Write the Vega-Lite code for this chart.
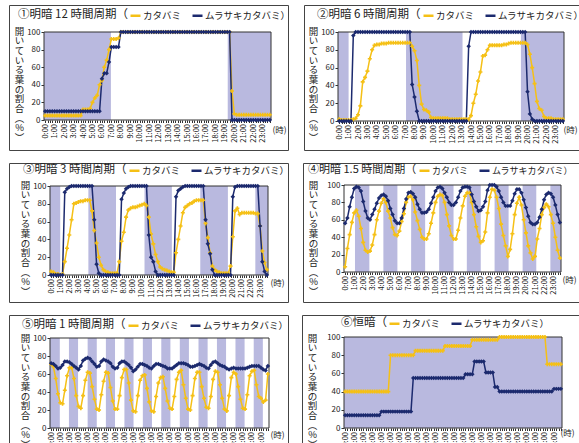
{
"$schema": "https://vega.github.io/schema/vega-lite/v6.json",
"background": "white",
"padding": {"left": 8, "top": 4, "right": 0, "bottom": 0},
"spacing": 11,
"config": {
  "font": "Noto Sans CJK JP",
  "view": {"stroke": "#444", "strokeWidth": 1},
  "axis": {"labelColor": "#222", "tickColor": "#333", "titleColor": "#222", "titleFontWeight": "normal", "labelOverlap": false},
  "axisX": {"labelAngle": -90, "labelFontSize": 7.5, "labelPadding": 1, "tickSize": 2.5, "domain": false, "grid": false, "labelOverlap": false, "labelBound": false, "labelFlush": false, "titleAngle": 0, "titleAlign": "center", "titleBaseline": "middle", "titleFontSize": 8.5},
  "axisY": {"labelFontSize": 8, "tickSize": 3, "labelPadding": 1, "domain": false, "grid": false, "titleAngle": 0, "titleAlign": "center", "titleBaseline": "top", "titleFontSize": 9.5, "titleLineHeight": 9.7},
  "legend": {"orient": "none", "direction": "horizontal", "titleOrient": "left", "titleFontSize": 11.5, "titleFontWeight": "normal", "titleColor": "#222", "labelFontSize": 9.5, "labelColor": "#222", "symbolType": "stroke", "symbolStrokeWidth": 2.5, "symbolSize": 100, "labelOffset": 1, "columnPadding": 5, "padding": 0, "titlePadding": 1}
},
"datasets": {
"sh": [
{"p":1,"a":-0.125,"b":6.95},{"p":1,"a":19.3,"b":23.875},
{"p":2,"a":-0.125,"b":1.0},{"p":2,"a":7.1,"b":13.1},{"p":2,"a":19.3,"b":23.875},
{"p":3,"a":-0.125,"b":1.0},{"p":3,"a":4.1,"b":7.14},{"p":3,"a":10.28,"b":13.29},{"p":3,"a":16.42,"b":19.46},{"p":3,"a":22.48,"b":23.875},
{"p":4,"a":1.09,"b":2.68},{"p":4,"a":4.23,"b":5.78},{"p":4,"a":7.3,"b":8.85},{"p":4,"a":10.4,"b":11.99},{"p":4,"a":13.46,"b":15.0},{"p":4,"a":16.53,"b":18.08},{"p":4,"a":19.63,"b":21.14},{"p":4,"a":22.7,"b":23.875},
{"p":5,"a":-0.125,"b":0.95},{"p":5,"a":1.95,"b":2.95},{"p":5,"a":4.0,"b":5.0},{"p":5,"a":6.0,"b":7.0},{"p":5,"a":8.03,"b":9.03},{"p":5,"a":10.05,"b":11.05},{"p":5,"a":12.07,"b":13.07},{"p":5,"a":14.1,"b":15.1},{"p":5,"a":16.15,"b":17.15},{"p":5,"a":18.17,"b":19.17},{"p":5,"a":20.2,"b":21.2},{"p":5,"a":22.2,"b":23.2},
{"p":6,"a":-0.125,"b":23.875}
],
"s": [
{"p":1,"t":0,"k":5,"m":10},{"p":1,"t":0.25,"k":5,"m":10},{"p":1,"t":0.5,"k":5,"m":10},{"p":1,"t":0.75,"k":5,"m":10},{"p":1,"t":1,"k":5,"m":10},{"p":1,"t":1.25,"k":5,"m":10},{"p":1,"t":1.5,"k":5,"m":10},{"p":1,"t":1.75,"k":5,"m":10},{"p":1,"t":2,"k":5,"m":10},{"p":1,"t":2.25,"k":5,"m":10},{"p":1,"t":2.5,"k":5,"m":10},{"p":1,"t":2.75,"k":5,"m":10},{"p":1,"t":3,"k":5,"m":10},{"p":1,"t":3.25,"k":5,"m":10},{"p":1,"t":3.5,"k":5,"m":10},{"p":1,"t":3.75,"k":5,"m":10},
{"p":1,"t":4,"k":12,"m":10},{"p":1,"t":4.25,"k":12,"m":10},{"p":1,"t":4.5,"k":12,"m":10},{"p":1,"t":4.75,"k":13,"m":10},{"p":1,"t":5,"k":20,"m":10},{"p":1,"t":5.25,"k":25,"m":10},{"p":1,"t":5.5,"k":28,"m":10},{"p":1,"t":5.75,"k":40,"m":10},
{"p":1,"t":6,"k":45,"m":47},{"p":1,"t":6.25,"k":60,"m":53},{"p":1,"t":6.5,"k":68,"m":53},{"p":1,"t":6.75,"k":80,"m":66},{"p":1,"t":7,"k":92,"m":83},{"p":1,"t":7.25,"k":92,"m":83},{"p":1,"t":7.5,"k":92,"m":83},{"p":1,"t":7.75,"k":93,"m":83},
{"p":1,"t":8,"k":100,"m":100},{"p":1,"t":8.25,"k":100,"m":100},{"p":1,"t":8.5,"k":100,"m":100},{"p":1,"t":8.75,"k":100,"m":100},{"p":1,"t":9,"k":100,"m":100},{"p":1,"t":9.25,"k":100,"m":100},{"p":1,"t":9.5,"k":100,"m":100},{"p":1,"t":9.75,"k":100,"m":100},{"p":1,"t":10,"k":100,"m":100},{"p":1,"t":10.25,"k":100,"m":100},{"p":1,"t":10.5,"k":100,"m":100},{"p":1,"t":10.75,"k":100,"m":100},{"p":1,"t":11,"k":100,"m":100},{"p":1,"t":11.25,"k":100,"m":100},{"p":1,"t":11.5,"k":100,"m":100},{"p":1,"t":11.75,"k":100,"m":100},{"p":1,"t":12,"k":100,"m":100},{"p":1,"t":12.25,"k":100,"m":100},{"p":1,"t":12.5,"k":100,"m":100},{"p":1,"t":12.75,"k":100,"m":100},{"p":1,"t":13,"k":100,"m":100},{"p":1,"t":13.25,"k":100,"m":100},{"p":1,"t":13.5,"k":100,"m":100},{"p":1,"t":13.75,"k":100,"m":100},{"p":1,"t":14,"k":100,"m":100},{"p":1,"t":14.25,"k":100,"m":100},{"p":1,"t":14.5,"k":100,"m":100},{"p":1,"t":14.75,"k":100,"m":100},{"p":1,"t":15,"k":100,"m":100},{"p":1,"t":15.25,"k":100,"m":100},{"p":1,"t":15.5,"k":100,"m":100},{"p":1,"t":15.75,"k":100,"m":100},{"p":1,"t":16,"k":100,"m":100},{"p":1,"t":16.25,"k":100,"m":100},{"p":1,"t":16.5,"k":100,"m":100},{"p":1,"t":16.75,"k":100,"m":100},{"p":1,"t":17,"k":100,"m":100},{"p":1,"t":17.25,"k":100,"m":100},{"p":1,"t":17.5,"k":100,"m":100},{"p":1,"t":17.75,"k":100,"m":100},{"p":1,"t":18,"k":100,"m":100},{"p":1,"t":18.25,"k":100,"m":100},{"p":1,"t":18.5,"k":100,"m":100},{"p":1,"t":18.75,"k":100,"m":100},{"p":1,"t":19,"k":100,"m":100},{"p":1,"t":19.25,"k":100,"m":100},{"p":1,"t":19.5,"k":100,"m":100},
{"p":1,"t":19.75,"k":33,"m":0},{"p":1,"t":20,"k":7,"m":0},{"p":1,"t":20.25,"k":6,"m":0},{"p":1,"t":20.5,"k":6,"m":0},{"p":1,"t":20.75,"k":6,"m":0},{"p":1,"t":21,"k":6,"m":0},{"p":1,"t":21.25,"k":6,"m":0},{"p":1,"t":21.5,"k":6,"m":0},{"p":1,"t":21.75,"k":6,"m":0},{"p":1,"t":22,"k":6,"m":0},{"p":1,"t":22.25,"k":6,"m":0},{"p":1,"t":22.5,"k":6,"m":0},{"p":1,"t":22.75,"k":6,"m":0},{"p":1,"t":23,"k":6,"m":0},{"p":1,"t":23.25,"k":6,"m":0},{"p":1,"t":23.5,"k":6,"m":0},{"p":1,"t":23.75,"k":6,"m":0},

{"p":2,"t":0,"k":2,"m":0},{"p":2,"t":0.25,"k":1,"m":0},{"p":2,"t":0.5,"k":1,"m":0},{"p":2,"t":0.75,"k":1,"m":0},{"p":2,"t":1,"k":1,"m":0},{"p":2,"t":1.25,"k":1,"m":0},{"p":2,"t":1.5,"k":2,"m":96},{"p":2,"t":1.75,"k":3,"m":100},{"p":2,"t":2,"k":7,"m":100},{"p":2,"t":2.25,"k":17,"m":100},{"p":2,"t":2.5,"k":44,"m":100},{"p":2,"t":2.75,"k":49,"m":100},{"p":2,"t":3,"k":56,"m":100},{"p":2,"t":3.25,"k":70,"m":100},{"p":2,"t":3.5,"k":80,"m":100},{"p":2,"t":3.75,"k":85,"m":100},{"p":2,"t":4,"k":86,"m":100},{"p":2,"t":4.25,"k":86,"m":100},{"p":2,"t":4.5,"k":87,"m":100},{"p":2,"t":4.75,"k":87,"m":100},{"p":2,"t":5,"k":87,"m":100},{"p":2,"t":5.25,"k":88,"m":100},{"p":2,"t":5.5,"k":88,"m":100},{"p":2,"t":5.75,"k":88,"m":100},{"p":2,"t":6,"k":88,"m":100},{"p":2,"t":6.25,"k":88,"m":100},{"p":2,"t":6.5,"k":88,"m":100},{"p":2,"t":6.75,"k":88,"m":100},{"p":2,"t":7,"k":88,"m":100},{"p":2,"t":7.25,"k":88,"m":100},{"p":2,"t":7.5,"k":88,"m":100},
{"p":2,"t":7.75,"k":84,"m":41},{"p":2,"t":8,"k":79,"m":27},{"p":2,"t":8.25,"k":68,"m":11},{"p":2,"t":8.5,"k":40,"m":0},{"p":2,"t":8.75,"k":19,"m":0},{"p":2,"t":9,"k":13,"m":0},{"p":2,"t":9.25,"k":12,"m":0},{"p":2,"t":9.5,"k":10,"m":0},{"p":2,"t":9.75,"k":4,"m":0},{"p":2,"t":10,"k":3,"m":0},{"p":2,"t":10.25,"k":3,"m":0},{"p":2,"t":10.5,"k":3,"m":0},{"p":2,"t":10.75,"k":3,"m":0},{"p":2,"t":11,"k":3,"m":0},{"p":2,"t":11.25,"k":3,"m":0},{"p":2,"t":11.5,"k":3,"m":0},{"p":2,"t":11.75,"k":2,"m":0},{"p":2,"t":12,"k":2,"m":0},{"p":2,"t":12.25,"k":2,"m":0},{"p":2,"t":12.5,"k":2,"m":0},{"p":2,"t":12.75,"k":2,"m":0},{"p":2,"t":13,"k":2,"m":0},{"p":2,"t":13.25,"k":2,"m":0},{"p":2,"t":13.5,"k":2,"m":0},
{"p":2,"t":13.75,"k":2,"m":84},{"p":2,"t":14,"k":6,"m":100},{"p":2,"t":14.25,"k":20,"m":100},{"p":2,"t":14.5,"k":30,"m":100},{"p":2,"t":14.75,"k":45,"m":100},{"p":2,"t":15,"k":55,"m":100},{"p":2,"t":15.25,"k":73,"m":100},{"p":2,"t":15.5,"k":74,"m":100},{"p":2,"t":15.75,"k":80,"m":100},{"p":2,"t":16,"k":85,"m":100},{"p":2,"t":16.25,"k":85,"m":100},{"p":2,"t":16.5,"k":85,"m":100},{"p":2,"t":16.75,"k":85,"m":100},{"p":2,"t":17,"k":85,"m":100},{"p":2,"t":17.25,"k":85,"m":100},{"p":2,"t":17.5,"k":86,"m":100},{"p":2,"t":17.75,"k":86,"m":100},{"p":2,"t":18,"k":87,"m":100},{"p":2,"t":18.25,"k":88,"m":100},{"p":2,"t":18.5,"k":88,"m":100},{"p":2,"t":18.75,"k":88,"m":100},{"p":2,"t":19,"k":88,"m":100},{"p":2,"t":19.25,"k":88,"m":100},{"p":2,"t":19.5,"k":88,"m":100},{"p":2,"t":19.75,"k":88,"m":100},
{"p":2,"t":20,"k":86,"m":33},{"p":2,"t":20.25,"k":75,"m":8},{"p":2,"t":20.5,"k":60,"m":2},{"p":2,"t":20.75,"k":42,"m":0},{"p":2,"t":21,"k":22,"m":0},{"p":2,"t":21.25,"k":14,"m":0},{"p":2,"t":21.5,"k":12,"m":0},{"p":2,"t":21.75,"k":5,"m":0},{"p":2,"t":22,"k":3,"m":0},{"p":2,"t":22.25,"k":3,"m":0},{"p":2,"t":22.5,"k":3,"m":0},{"p":2,"t":22.75,"k":2,"m":0},{"p":2,"t":23,"k":2,"m":0},{"p":2,"t":23.25,"k":2,"m":0},{"p":2,"t":23.5,"k":2,"m":0},{"p":2,"t":23.75,"k":2,"m":0},

{"p":3,"t":0,"k":4,"m":0},{"p":3,"t":0.25,"k":3,"m":0},{"p":3,"t":0.5,"k":1,"m":0},{"p":3,"t":0.75,"k":1,"m":0},{"p":3,"t":1,"k":0,"m":0},{"p":3,"t":1.25,"k":1,"m":0},{"p":3,"t":1.5,"k":15,"m":93},{"p":3,"t":1.75,"k":30,"m":97},{"p":3,"t":2,"k":45,"m":99},{"p":3,"t":2.25,"k":62,"m":100},{"p":3,"t":2.5,"k":80,"m":100},{"p":3,"t":2.75,"k":81,"m":100},{"p":3,"t":3,"k":82,"m":100},{"p":3,"t":3.25,"k":83,"m":100},{"p":3,"t":3.5,"k":83,"m":100},{"p":3,"t":3.75,"k":84,"m":100},{"p":3,"t":4,"k":84,"m":100},{"p":3,"t":4.25,"k":84,"m":100},{"p":3,"t":4.5,"k":72,"m":100},
{"p":3,"t":4.75,"k":50,"m":62},{"p":3,"t":5,"k":36,"m":12},{"p":3,"t":5.25,"k":20,"m":2},{"p":3,"t":5.5,"k":11,"m":0},{"p":3,"t":5.75,"k":6,"m":0},{"p":3,"t":6,"k":4,"m":0},{"p":3,"t":6.25,"k":3,"m":0},{"p":3,"t":6.5,"k":2,"m":0},{"p":3,"t":6.75,"k":2,"m":0},{"p":3,"t":7,"k":2,"m":0},{"p":3,"t":7.25,"k":2,"m":0},{"p":3,"t":7.5,"k":15,"m":0},
{"p":3,"t":7.75,"k":38,"m":85},{"p":3,"t":8,"k":48,"m":92},{"p":3,"t":8.25,"k":65,"m":97},{"p":3,"t":8.5,"k":73,"m":99},{"p":3,"t":8.75,"k":75,"m":100},{"p":3,"t":9,"k":76,"m":100},{"p":3,"t":9.25,"k":76,"m":100},{"p":3,"t":9.5,"k":77,"m":100},{"p":3,"t":9.75,"k":78,"m":100},{"p":3,"t":10,"k":79,"m":100},{"p":3,"t":10.25,"k":80,"m":100},{"p":3,"t":10.5,"k":78,"m":100},
{"p":3,"t":10.75,"k":65,"m":45},{"p":3,"t":11,"k":46,"m":20},{"p":3,"t":11.25,"k":35,"m":15},{"p":3,"t":11.5,"k":23,"m":4},{"p":3,"t":11.75,"k":15,"m":0},{"p":3,"t":12,"k":9,"m":0},{"p":3,"t":12.25,"k":7,"m":0},{"p":3,"t":12.5,"k":6,"m":0},{"p":3,"t":12.75,"k":5,"m":0},{"p":3,"t":13,"k":4,"m":0},{"p":3,"t":13.25,"k":3,"m":0},{"p":3,"t":13.5,"k":3,"m":0},
{"p":3,"t":13.75,"k":25,"m":88},{"p":3,"t":14,"k":40,"m":95},{"p":3,"t":14.25,"k":55,"m":97},{"p":3,"t":14.5,"k":70,"m":99},{"p":3,"t":14.75,"k":76,"m":100},{"p":3,"t":15,"k":78,"m":100},{"p":3,"t":15.25,"k":80,"m":100},{"p":3,"t":15.5,"k":81,"m":100},{"p":3,"t":15.75,"k":83,"m":100},{"p":3,"t":16,"k":84,"m":100},{"p":3,"t":16.25,"k":84,"m":100},{"p":3,"t":16.5,"k":84,"m":100},{"p":3,"t":16.75,"k":84,"m":100},
{"p":3,"t":17,"k":58,"m":62},{"p":3,"t":17.25,"k":42,"m":35},{"p":3,"t":17.5,"k":25,"m":24},{"p":3,"t":17.75,"k":10,"m":6},{"p":3,"t":18,"k":6,"m":0},{"p":3,"t":18.25,"k":4,"m":0},{"p":3,"t":18.5,"k":3,"m":0},{"p":3,"t":18.75,"k":2,"m":0},{"p":3,"t":19,"k":2,"m":0},{"p":3,"t":19.25,"k":2,"m":0},{"p":3,"t":19.5,"k":2,"m":0},{"p":3,"t":19.75,"k":10,"m":0},
{"p":3,"t":20,"k":43,"m":88},{"p":3,"t":20.25,"k":72,"m":99},{"p":3,"t":20.5,"k":75,"m":100},{"p":3,"t":20.75,"k":68,"m":100},{"p":3,"t":21,"k":70,"m":100},{"p":3,"t":21.25,"k":70,"m":100},{"p":3,"t":21.5,"k":70,"m":100},{"p":3,"t":21.75,"k":70,"m":100},{"p":3,"t":22,"k":70,"m":100},{"p":3,"t":22.25,"k":70,"m":100},{"p":3,"t":22.5,"k":69,"m":100},{"p":3,"t":22.75,"k":69,"m":100},{"p":3,"t":23,"k":55,"m":55},{"p":3,"t":23.25,"k":27,"m":15},{"p":3,"t":23.5,"k":14,"m":4},{"p":3,"t":23.75,"k":6,"m":0},

{"p":4,"t":0,"k":6,"m":56},{"p":4,"t":0.25,"k":27,"m":62},{"p":4,"t":0.5,"k":43,"m":75},{"p":4,"t":0.75,"k":57,"m":86},{"p":4,"t":1,"k":68,"m":96},{"p":4,"t":1.25,"k":71,"m":98},{"p":4,"t":1.5,"k":64,"m":97},{"p":4,"t":1.75,"k":50,"m":93},{"p":4,"t":2,"k":34,"m":81},{"p":4,"t":2.25,"k":25,"m":70},{"p":4,"t":2.5,"k":23,"m":62},{"p":4,"t":2.75,"k":24,"m":60},{"p":4,"t":3,"k":31,"m":66},{"p":4,"t":3.25,"k":43,"m":72},{"p":4,"t":3.5,"k":60,"m":79},{"p":4,"t":3.75,"k":70,"m":85},{"p":4,"t":4,"k":79,"m":88},{"p":4,"t":4.25,"k":84,"m":89},{"p":4,"t":4.5,"k":80,"m":87},{"p":4,"t":4.75,"k":70,"m":82},{"p":4,"t":5,"k":62,"m":73},{"p":4,"t":5.25,"k":51,"m":66},{"p":4,"t":5.5,"k":43,"m":59},{"p":4,"t":5.75,"k":42,"m":56},
{"p":4,"t":6,"k":47,"m":56},{"p":4,"t":6.25,"k":58,"m":62},{"p":4,"t":6.5,"k":67,"m":73},{"p":4,"t":6.75,"k":80,"m":84},{"p":4,"t":7,"k":86,"m":91},{"p":4,"t":7.25,"k":87,"m":92},{"p":4,"t":7.5,"k":83,"m":90},{"p":4,"t":7.75,"k":69,"m":86},{"p":4,"t":8,"k":59,"m":78},{"p":4,"t":8.25,"k":49,"m":72},{"p":4,"t":8.5,"k":40,"m":68},{"p":4,"t":8.75,"k":38,"m":68},{"p":4,"t":9,"k":38,"m":69},{"p":4,"t":9.25,"k":44,"m":72},{"p":4,"t":9.5,"k":56,"m":79},{"p":4,"t":9.75,"k":68,"m":86},{"p":4,"t":10,"k":80,"m":93},{"p":4,"t":10.25,"k":87,"m":97},{"p":4,"t":10.5,"k":89,"m":98},{"p":4,"t":10.75,"k":88,"m":96},{"p":4,"t":11,"k":80,"m":91},{"p":4,"t":11.25,"k":66,"m":86},{"p":4,"t":11.5,"k":53,"m":80},{"p":4,"t":11.75,"k":42,"m":77},
{"p":4,"t":12,"k":38,"m":77},{"p":4,"t":12.25,"k":38,"m":80},{"p":4,"t":12.5,"k":48,"m":86},{"p":4,"t":12.75,"k":62,"m":93},{"p":4,"t":13,"k":76,"m":97},{"p":4,"t":13.25,"k":87,"m":98},{"p":4,"t":13.5,"k":91,"m":98},{"p":4,"t":13.75,"k":91,"m":97},{"p":4,"t":14,"k":80,"m":89},{"p":4,"t":14.25,"k":66,"m":81},{"p":4,"t":14.5,"k":52,"m":75},{"p":4,"t":14.75,"k":41,"m":70},{"p":4,"t":15,"k":34,"m":71},{"p":4,"t":15.25,"k":36,"m":75},{"p":4,"t":15.5,"k":46,"m":81},{"p":4,"t":15.75,"k":68,"m":94},{"p":4,"t":16,"k":86,"m":100},{"p":4,"t":16.25,"k":95,"m":100},{"p":4,"t":16.5,"k":94,"m":100},{"p":4,"t":16.75,"k":86,"m":98},{"p":4,"t":17,"k":73,"m":93},{"p":4,"t":17.25,"k":55,"m":86},{"p":4,"t":17.5,"k":42,"m":80},{"p":4,"t":17.75,"k":30,"m":76},
{"p":4,"t":18,"k":18,"m":76},{"p":4,"t":18.25,"k":26,"m":76},{"p":4,"t":18.5,"k":44,"m":82},{"p":4,"t":18.75,"k":66,"m":90},{"p":4,"t":19,"k":79,"m":95},{"p":4,"t":19.25,"k":86,"m":95},{"p":4,"t":19.5,"k":77,"m":91},{"p":4,"t":19.75,"k":60,"m":83},{"p":4,"t":20,"k":45,"m":74},{"p":4,"t":20.25,"k":30,"m":64},{"p":4,"t":20.5,"k":22,"m":57},{"p":4,"t":20.75,"k":15,"m":55},{"p":4,"t":21,"k":18,"m":55},{"p":4,"t":21.25,"k":38,"m":57},{"p":4,"t":21.5,"k":50,"m":63},{"p":4,"t":21.75,"k":66,"m":72},{"p":4,"t":22,"k":74,"m":83},{"p":4,"t":22.25,"k":78,"m":89},{"p":4,"t":22.5,"k":75,"m":91},{"p":4,"t":22.75,"k":66,"m":90},{"p":4,"t":23,"k":56,"m":86},{"p":4,"t":23.25,"k":40,"m":77},{"p":4,"t":23.5,"k":25,"m":66},{"p":4,"t":23.75,"k":16,"m":57},

{"p":5,"t":0,"k":71,"m":72},{"p":5,"t":0.25,"k":68,"m":71},{"p":5,"t":0.5,"k":55,"m":69},{"p":5,"t":0.75,"k":38,"m":66},{"p":5,"t":1,"k":28,"m":67},{"p":5,"t":1.25,"k":27,"m":70},{"p":5,"t":1.5,"k":42,"m":74},{"p":5,"t":1.75,"k":58,"m":74},
{"p":5,"t":2,"k":67,"m":73},{"p":5,"t":2.25,"k":67,"m":71},{"p":5,"t":2.5,"k":55,"m":69},{"p":5,"t":2.75,"k":36,"m":67},{"p":5,"t":3,"k":24,"m":65},{"p":5,"t":3.25,"k":22,"m":69},{"p":5,"t":3.5,"k":36,"m":75},{"p":5,"t":3.75,"k":53,"m":77},
{"p":5,"t":4,"k":62,"m":78},{"p":5,"t":4.25,"k":61,"m":77},{"p":5,"t":4.5,"k":46,"m":74},{"p":5,"t":4.75,"k":32,"m":71},{"p":5,"t":5,"k":21,"m":68},{"p":5,"t":5.25,"k":20,"m":69},{"p":5,"t":5.5,"k":37,"m":74},{"p":5,"t":5.75,"k":52,"m":76},
{"p":5,"t":6,"k":62,"m":75},{"p":5,"t":6.25,"k":61,"m":74},{"p":5,"t":6.5,"k":45,"m":72},{"p":5,"t":6.75,"k":30,"m":68},{"p":5,"t":7,"k":21,"m":66},{"p":5,"t":7.25,"k":21,"m":67},{"p":5,"t":7.5,"k":36,"m":72},{"p":5,"t":7.75,"k":56,"m":74},
{"p":5,"t":8,"k":65,"m":74},{"p":5,"t":8.25,"k":65,"m":72},{"p":5,"t":8.5,"k":50,"m":70},{"p":5,"t":8.75,"k":31,"m":67},{"p":5,"t":9,"k":19,"m":63},{"p":5,"t":9.25,"k":18,"m":65},{"p":5,"t":9.5,"k":36,"m":68},{"p":5,"t":9.75,"k":53,"m":71},
{"p":5,"t":10,"k":58,"m":71},{"p":5,"t":10.25,"k":59,"m":70},{"p":5,"t":10.5,"k":44,"m":69},{"p":5,"t":10.75,"k":29,"m":67},{"p":5,"t":11,"k":19,"m":66},{"p":5,"t":11.25,"k":18,"m":69},{"p":5,"t":11.5,"k":35,"m":71},{"p":5,"t":11.75,"k":50,"m":71},
{"p":5,"t":12,"k":56,"m":70},{"p":5,"t":12.25,"k":57,"m":69},{"p":5,"t":12.5,"k":44,"m":68},{"p":5,"t":12.75,"k":30,"m":66},{"p":5,"t":13,"k":22,"m":66},{"p":5,"t":13.25,"k":21,"m":66},{"p":5,"t":13.5,"k":35,"m":68},{"p":5,"t":13.75,"k":54,"m":70},
{"p":5,"t":14,"k":62,"m":72},{"p":5,"t":14.25,"k":64,"m":72},{"p":5,"t":14.5,"k":48,"m":72},{"p":5,"t":14.75,"k":33,"m":71},{"p":5,"t":15,"k":21,"m":70},{"p":5,"t":15.25,"k":20,"m":68},{"p":5,"t":15.5,"k":36,"m":68},{"p":5,"t":15.75,"k":55,"m":69},
{"p":5,"t":16,"k":62,"m":70},{"p":5,"t":16.25,"k":62,"m":71},{"p":5,"t":16.5,"k":46,"m":70},{"p":5,"t":16.75,"k":33,"m":69},{"p":5,"t":17,"k":23,"m":67},{"p":5,"t":17.25,"k":22,"m":66},{"p":5,"t":17.5,"k":35,"m":70},{"p":5,"t":17.75,"k":54,"m":73},
{"p":5,"t":18,"k":63,"m":74},{"p":5,"t":18.25,"k":62,"m":72},{"p":5,"t":18.5,"k":48,"m":70},{"p":5,"t":18.75,"k":33,"m":69},{"p":5,"t":19,"k":21,"m":68},{"p":5,"t":19.25,"k":19,"m":66},{"p":5,"t":19.5,"k":36,"m":65},{"p":5,"t":19.75,"k":56,"m":66},
{"p":5,"t":20,"k":62,"m":67},{"p":5,"t":20.25,"k":60,"m":66},{"p":5,"t":20.5,"k":46,"m":66},{"p":5,"t":20.75,"k":32,"m":66},{"p":5,"t":21,"k":22,"m":66},{"p":5,"t":21.25,"k":21,"m":66},{"p":5,"t":21.5,"k":37,"m":67},{"p":5,"t":21.75,"k":58,"m":68},
{"p":5,"t":22,"k":63,"m":69},{"p":5,"t":22.25,"k":64,"m":69},{"p":5,"t":22.5,"k":48,"m":69},{"p":5,"t":22.75,"k":35,"m":69},{"p":5,"t":23,"k":33,"m":67},{"p":5,"t":23.25,"k":29,"m":65},{"p":5,"t":23.5,"k":31,"m":64},{"p":5,"t":23.75,"k":60,"m":69},

{"p":6,"t":0,"k":40,"m":14},{"p":6,"t":0.25,"k":40,"m":14},{"p":6,"t":0.5,"k":40,"m":14},{"p":6,"t":0.75,"k":40,"m":14},{"p":6,"t":1,"k":40,"m":14},{"p":6,"t":1.25,"k":40,"m":14},{"p":6,"t":1.5,"k":40,"m":14},{"p":6,"t":1.75,"k":40,"m":14},{"p":6,"t":2,"k":40,"m":14},{"p":6,"t":2.25,"k":40,"m":14},{"p":6,"t":2.5,"k":40,"m":14},{"p":6,"t":2.75,"k":40,"m":14},{"p":6,"t":3,"k":40,"m":14},{"p":6,"t":3.25,"k":40,"m":14},{"p":6,"t":3.5,"k":40,"m":14},{"p":6,"t":3.75,"k":40,"m":14},
{"p":6,"t":4,"k":40,"m":18},{"p":6,"t":4.25,"k":40,"m":18},{"p":6,"t":4.5,"k":40,"m":18},{"p":6,"t":4.75,"k":40,"m":18},{"p":6,"t":5,"k":80,"m":18},{"p":6,"t":5.25,"k":80,"m":18},{"p":6,"t":5.5,"k":80,"m":18},{"p":6,"t":5.75,"k":80,"m":18},{"p":6,"t":6,"k":80,"m":18},{"p":6,"t":6.25,"k":80,"m":18},{"p":6,"t":6.5,"k":80,"m":18},{"p":6,"t":6.75,"k":80,"m":18},{"p":6,"t":7,"k":80,"m":18},{"p":6,"t":7.25,"k":80,"m":18},
{"p":6,"t":7.5,"k":80,"m":55},{"p":6,"t":7.75,"k":85,"m":55},{"p":6,"t":8,"k":85,"m":55},{"p":6,"t":8.25,"k":85,"m":55},{"p":6,"t":8.5,"k":85,"m":55},{"p":6,"t":8.75,"k":85,"m":55},{"p":6,"t":9,"k":85,"m":55},{"p":6,"t":9.25,"k":85,"m":55},{"p":6,"t":9.5,"k":85,"m":55},{"p":6,"t":9.75,"k":85,"m":55},{"p":6,"t":10,"k":85,"m":55},{"p":6,"t":10.25,"k":85,"m":55},{"p":6,"t":10.5,"k":85,"m":55},{"p":6,"t":10.75,"k":85,"m":55},{"p":6,"t":11,"k":90,"m":55},{"p":6,"t":11.25,"k":90,"m":55},{"p":6,"t":11.5,"k":90,"m":55},{"p":6,"t":11.75,"k":90,"m":55},{"p":6,"t":12,"k":90,"m":55},{"p":6,"t":12.25,"k":90,"m":55},{"p":6,"t":12.5,"k":90,"m":55},{"p":6,"t":12.75,"k":90,"m":55},{"p":6,"t":13,"k":90,"m":55},
{"p":6,"t":13.25,"k":90,"m":59},{"p":6,"t":13.5,"k":90,"m":59},{"p":6,"t":13.75,"k":90,"m":59},{"p":6,"t":14,"k":97,"m":59},{"p":6,"t":14.25,"k":97,"m":73},{"p":6,"t":14.5,"k":97,"m":73},{"p":6,"t":14.75,"k":97,"m":73},{"p":6,"t":15,"k":97,"m":73},{"p":6,"t":15.25,"k":97,"m":73},{"p":6,"t":15.5,"k":97,"m":61},{"p":6,"t":15.75,"k":97,"m":61},{"p":6,"t":16,"k":97,"m":61},{"p":6,"t":16.25,"k":97,"m":61},{"p":6,"t":16.5,"k":97,"m":45},{"p":6,"t":16.75,"k":97,"m":45},
{"p":6,"t":17,"k":100,"m":40},{"p":6,"t":17.25,"k":100,"m":40},{"p":6,"t":17.5,"k":100,"m":40},{"p":6,"t":17.75,"k":100,"m":40},{"p":6,"t":18,"k":100,"m":40},{"p":6,"t":18.25,"k":100,"m":40},{"p":6,"t":18.5,"k":100,"m":40},{"p":6,"t":18.75,"k":100,"m":40},{"p":6,"t":19,"k":100,"m":40},{"p":6,"t":19.25,"k":100,"m":40},{"p":6,"t":19.5,"k":100,"m":40},{"p":6,"t":19.75,"k":100,"m":40},{"p":6,"t":20,"k":100,"m":40},{"p":6,"t":20.25,"k":100,"m":40},{"p":6,"t":20.5,"k":100,"m":40},{"p":6,"t":20.75,"k":100,"m":40},{"p":6,"t":21,"k":100,"m":40},{"p":6,"t":21.25,"k":100,"m":40},{"p":6,"t":21.5,"k":100,"m":40},{"p":6,"t":21.75,"k":100,"m":40},{"p":6,"t":22,"k":100,"m":40},
{"p":6,"t":22.25,"k":70,"m":40},{"p":6,"t":22.5,"k":70,"m":40},{"p":6,"t":22.75,"k":70,"m":40},{"p":6,"t":23,"k":70,"m":43},{"p":6,"t":23.25,"k":70,"m":43},{"p":6,"t":23.5,"k":70,"m":43},{"p":6,"t":23.75,"k":70,"m":43}
]
},
"resolve": {"scale": {"x": "independent", "y": "independent", "color": "independent"}, "legend": {"color": "independent"}},
"vconcat": [
{"spacing": 11, "resolve": {"scale": {"x": "independent", "y": "independent", "color": "independent"}, "legend": {"color": "independent"}},
 "hconcat": [
  {"width": 279, "height": 145, "layer": [
    {"data": {"name": "sh"}, "transform": [{"filter": "datum.p == 1"}], "mark": {"type": "rect", "color": "#B9B9DF"},
     "encoding": {
      "x": {"field": "a", "type": "quantitative", "scale": {"domain": [-0.125, 23.875], "range": [35, 262], "nice": false, "zero": false},
        "axis": {"values": [0,0.25,0.5,0.75,1,1.25,1.5,1.75,2,2.25,2.5,2.75,3,3.25,3.5,3.75,4,4.25,4.5,4.75,5,5.25,5.5,5.75,6,6.25,6.5,6.75,7,7.25,7.5,7.75,8,8.25,8.5,8.75,9,9.25,9.5,9.75,10,10.25,10.5,10.75,11,11.25,11.5,11.75,12,12.25,12.5,12.75,13,13.25,13.5,13.75,14,14.25,14.5,14.75,15,15.25,15.5,15.75,16,16.25,16.5,16.75,17,17.25,17.5,17.75,18,18.25,18.5,18.75,19,19.25,19.5,19.75,20,20.25,20.5,20.75,21,21.25,21.5,21.75,22,22.25,22.5,22.75,23,23.25,23.5,23.75], "tickCount": 200, "labelExpr": "datum.value % 1 === 0 ? datum.value + ':00' : ''", "labelOverlap": false, "offset": -30, "title": "(時)", "titleX": 270, "titleY": 9}},
      "x2": {"field": "b"},
      "y": {"datum": 0, "type": "quantitative", "scale": {"domain": [0, 100], "range": [115, 27], "nice": false, "zero": false},
        "axis": {"values": [0,20,40,60,80,100], "tickCount": 20, "offset": -35, "title": ["開","い","て","い","る","葉","の","割","合","︵","%","︶"], "titleX": -25, "titleY": 21}},
      "y2": {"datum": 100}}},
    {"data": {"values": [{}]}, "mark": {"type": "rect", "filled": false, "color": "#333", "strokeWidth": 1},
     "encoding": {"x": {"datum": -0.125, "type": "quantitative"}, "x2": {"datum": 23.875}, "y": {"datum": 0, "type": "quantitative"}, "y2": {"datum": 100}}},
    {"data": {"name": "s"}, "transform": [{"filter": "datum.p == 1"}, {"fold": ["k", "m"], "as": ["s", "v"]}], "mark": {"type": "line", "strokeWidth": 1.5},
     "encoding": {"x": {"field": "t", "type": "quantitative"}, "y": {"field": "v", "type": "quantitative"},
      "color": {"field": "s", "type": "nominal", "scale": {"domain": ["k", "m"], "range": ["#F5C016", "#1C2A6E"]},
        "legend": {"title": "①明暗 12 時間周期（", "legendX": 9, "legendY": 4, "symbolType": "stroke", "labelExpr": "datum.value === 'k' ? 'カタバミ' : 'ムラサキカタバミ）'"}}}},
    {"data": {"name": "s"}, "transform": [{"filter": "datum.p == 1"}, {"fold": ["k"], "as": ["s", "v"]}], "mark": {"type": "point", "filled": true, "size": 16, "shape": "cross", "opacity": 1},
     "encoding": {"x": {"field": "t", "type": "quantitative"}, "y": {"field": "v", "type": "quantitative"}, "color": {"field": "s", "type": "nominal"}}},
    {"data": {"name": "s"}, "transform": [{"filter": "datum.p == 1"}, {"fold": ["m"], "as": ["s", "v"]}], "mark": {"type": "point", "filled": true, "size": 20, "shape": "diamond", "opacity": 1},
     "encoding": {"x": {"field": "t", "type": "quantitative"}, "y": {"field": "v", "type": "quantitative"}, "color": {"field": "s", "type": "nominal"}}}
  ]},
  {"width": 279, "height": 145, "layer": [
    {"data": {"name": "sh"}, "transform": [{"filter": "datum.p == 2"}], "mark": {"type": "rect", "color": "#B9B9DF"},
     "encoding": {
      "x": {"field": "a", "type": "quantitative", "scale": {"domain": [-0.125, 23.875], "range": [34, 260], "nice": false, "zero": false},
        "axis": {"values": [0,0.25,0.5,0.75,1,1.25,1.5,1.75,2,2.25,2.5,2.75,3,3.25,3.5,3.75,4,4.25,4.5,4.75,5,5.25,5.5,5.75,6,6.25,6.5,6.75,7,7.25,7.5,7.75,8,8.25,8.5,8.75,9,9.25,9.5,9.75,10,10.25,10.5,10.75,11,11.25,11.5,11.75,12,12.25,12.5,12.75,13,13.25,13.5,13.75,14,14.25,14.5,14.75,15,15.25,15.5,15.75,16,16.25,16.5,16.75,17,17.25,17.5,17.75,18,18.25,18.5,18.75,19,19.25,19.5,19.75,20,20.25,20.5,20.75,21,21.25,21.5,21.75,22,22.25,22.5,22.75,23,23.25,23.5,23.75], "tickCount": 200, "labelExpr": "datum.value % 1 === 0 ? datum.value + ':00' : ''", "labelOverlap": false, "offset": -29, "title": "(時)", "titleX": 266, "titleY": 8}},
      "x2": {"field": "b"},
      "y": {"datum": 0, "type": "quantitative", "scale": {"domain": [0, 100], "range": [116, 27], "nice": false, "zero": false},
        "axis": {"values": [0,20,40,60,80,100], "tickCount": 20, "offset": -34, "title": ["開","い","て","い","る","葉","の","割","合","︵","%","︶"], "titleX": -25, "titleY": 21}},
      "y2": {"datum": 100}}},
    {"data": {"values": [{}]}, "mark": {"type": "rect", "filled": false, "color": "#333", "strokeWidth": 1},
     "encoding": {"x": {"datum": -0.125, "type": "quantitative"}, "x2": {"datum": 23.875}, "y": {"datum": 0, "type": "quantitative"}, "y2": {"datum": 100}}},
    {"data": {"name": "s"}, "transform": [{"filter": "datum.p == 2"}, {"fold": ["k", "m"], "as": ["s", "v"]}], "mark": {"type": "line", "strokeWidth": 1.5},
     "encoding": {"x": {"field": "t", "type": "quantitative"}, "y": {"field": "v", "type": "quantitative"},
      "color": {"field": "s", "type": "nominal", "scale": {"domain": ["k", "m"], "range": ["#F5C016", "#1C2A6E"]},
        "legend": {"title": "②明暗 6 時間周期（", "legendX": 13, "legendY": 4, "symbolType": "stroke", "labelExpr": "datum.value === 'k' ? 'カタバミ' : 'ムラサキカタバミ）'"}}}},
    {"data": {"name": "s"}, "transform": [{"filter": "datum.p == 2"}, {"fold": ["k"], "as": ["s", "v"]}], "mark": {"type": "point", "filled": true, "size": 16, "shape": "cross", "opacity": 1},
     "encoding": {"x": {"field": "t", "type": "quantitative"}, "y": {"field": "v", "type": "quantitative"}, "color": {"field": "s", "type": "nominal"}}},
    {"data": {"name": "s"}, "transform": [{"filter": "datum.p == 2"}, {"fold": ["m"], "as": ["s", "v"]}], "mark": {"type": "point", "filled": true, "size": 20, "shape": "diamond", "opacity": 1},
     "encoding": {"x": {"field": "t", "type": "quantitative"}, "y": {"field": "v", "type": "quantitative"}, "color": {"field": "s", "type": "nominal"}}}
  ]}
 ]},
{"spacing": 11, "resolve": {"scale": {"x": "independent", "y": "independent", "color": "independent"}, "legend": {"color": "independent"}},
 "hconcat": [
  {"width": 279, "height": 139, "layer": [
    {"data": {"name": "sh"}, "transform": [{"filter": "datum.p == 3"}], "mark": {"type": "rect", "color": "#B9B9DF"},
     "encoding": {
      "x": {"field": "a", "type": "quantitative", "scale": {"domain": [-0.125, 23.875], "range": [41, 259], "nice": false, "zero": false},
        "axis": {"values": [0,0.25,0.5,0.75,1,1.25,1.5,1.75,2,2.25,2.5,2.75,3,3.25,3.5,3.75,4,4.25,4.5,4.75,5,5.25,5.5,5.75,6,6.25,6.5,6.75,7,7.25,7.5,7.75,8,8.25,8.5,8.75,9,9.25,9.5,9.75,10,10.25,10.5,10.75,11,11.25,11.5,11.75,12,12.25,12.5,12.75,13,13.25,13.5,13.75,14,14.25,14.5,14.75,15,15.25,15.5,15.75,16,16.25,16.5,16.75,17,17.25,17.5,17.75,18,18.25,18.5,18.75,19,19.25,19.5,19.75,20,20.25,20.5,20.75,21,21.25,21.5,21.75,22,22.25,22.5,22.75,23,23.25,23.5,23.75], "tickCount": 200, "labelExpr": "datum.value % 1 === 0 ? datum.value + ':00' : ''", "labelOverlap": false, "offset": -27, "title": "(時)", "titleX": 268, "titleY": 7}},
      "x2": {"field": "b"},
      "y": {"datum": 0, "type": "quantitative", "scale": {"domain": [0, 100], "range": [112, 23], "nice": false, "zero": false},
        "axis": {"values": [0,20,40,60,80,100], "tickCount": 20, "offset": -41, "title": ["開","い","て","い","る","葉","の","割","合","︵","%","︶"], "titleX": -25, "titleY": 17}},
      "y2": {"datum": 100}}},
    {"data": {"values": [{}]}, "mark": {"type": "rect", "filled": false, "color": "#333", "strokeWidth": 1},
     "encoding": {"x": {"datum": -0.125, "type": "quantitative"}, "x2": {"datum": 23.875}, "y": {"datum": 0, "type": "quantitative"}, "y2": {"datum": 100}}},
    {"data": {"name": "s"}, "transform": [{"filter": "datum.p == 3"}, {"fold": ["k", "m"], "as": ["s", "v"]}], "mark": {"type": "line", "strokeWidth": 1.5},
     "encoding": {"x": {"field": "t", "type": "quantitative"}, "y": {"field": "v", "type": "quantitative"},
      "color": {"field": "s", "type": "nominal", "scale": {"domain": ["k", "m"], "range": ["#F5C016", "#1C2A6E"]},
        "legend": {"title": "③明暗 3 時間周期（", "legendX": 14, "legendY": 1, "symbolType": "stroke", "labelExpr": "datum.value === 'k' ? 'カタバミ' : 'ムラサキカタバミ）'"}}}},
    {"data": {"name": "s"}, "transform": [{"filter": "datum.p == 3"}, {"fold": ["k"], "as": ["s", "v"]}], "mark": {"type": "point", "filled": true, "size": 16, "shape": "cross", "opacity": 1},
     "encoding": {"x": {"field": "t", "type": "quantitative"}, "y": {"field": "v", "type": "quantitative"}, "color": {"field": "s", "type": "nominal"}}},
    {"data": {"name": "s"}, "transform": [{"filter": "datum.p == 3"}, {"fold": ["m"], "as": ["s", "v"]}], "mark": {"type": "point", "filled": true, "size": 20, "shape": "diamond", "opacity": 1},
     "encoding": {"x": {"field": "t", "type": "quantitative"}, "y": {"field": "v", "type": "quantitative"}, "color": {"field": "s", "type": "nominal"}}}
  ]},
  {"width": 279, "height": 139, "layer": [
    {"data": {"name": "sh"}, "transform": [{"filter": "datum.p == 4"}], "mark": {"type": "rect", "color": "#B9B9DF"},
     "encoding": {
      "x": {"field": "a", "type": "quantitative", "scale": {"domain": [-0.125, 23.875], "range": [41, 258], "nice": false, "zero": false},
        "axis": {"values": [0,0.25,0.5,0.75,1,1.25,1.5,1.75,2,2.25,2.5,2.75,3,3.25,3.5,3.75,4,4.25,4.5,4.75,5,5.25,5.5,5.75,6,6.25,6.5,6.75,7,7.25,7.5,7.75,8,8.25,8.5,8.75,9,9.25,9.5,9.75,10,10.25,10.5,10.75,11,11.25,11.5,11.75,12,12.25,12.5,12.75,13,13.25,13.5,13.75,14,14.25,14.5,14.75,15,15.25,15.5,15.75,16,16.25,16.5,16.75,17,17.25,17.5,17.75,18,18.25,18.5,18.75,19,19.25,19.5,19.75,20,20.25,20.5,20.75,21,21.25,21.5,21.75,22,22.25,22.5,22.75,23,23.25,23.5,23.75], "tickCount": 200, "labelExpr": "datum.value % 1 === 0 ? datum.value + ':00' : ''", "labelOverlap": false, "offset": -30, "title": "(時)", "titleX": 266, "titleY": 7}},
      "x2": {"field": "b"},
      "y": {"datum": 0, "type": "quantitative", "scale": {"domain": [0, 100], "range": [109, 22], "nice": false, "zero": false},
        "axis": {"values": [0,20,40,60,80,100], "tickCount": 20, "offset": -41, "title": ["開","い","て","い","る","葉","の","割","合","︵","%","︶"], "titleX": -31, "titleY": 17}},
      "y2": {"datum": 100}}},
    {"data": {"values": [{}]}, "mark": {"type": "rect", "filled": false, "color": "#333", "strokeWidth": 1},
     "encoding": {"x": {"datum": -0.125, "type": "quantitative"}, "x2": {"datum": 23.875}, "y": {"datum": 0, "type": "quantitative"}, "y2": {"datum": 100}}},
    {"data": {"name": "s"}, "transform": [{"filter": "datum.p == 4"}, {"fold": ["k", "m"], "as": ["s", "v"]}], "mark": {"type": "line", "strokeWidth": 1.5},
     "encoding": {"x": {"field": "t", "type": "quantitative"}, "y": {"field": "v", "type": "quantitative"},
      "color": {"field": "s", "type": "nominal", "scale": {"domain": ["k", "m"], "range": ["#F5C016", "#1C2A6E"]},
        "legend": {"title": "④明暗 1.5 時間周期（", "legendX": 5, "legendY": 1, "symbolType": "stroke", "titleFontSize": 11, "labelFontSize": 9, "labelExpr": "datum.value === 'k' ? 'カタバミ' : 'ムラサキカタバミ）'"}}}},
    {"data": {"name": "s"}, "transform": [{"filter": "datum.p == 4"}, {"fold": ["k"], "as": ["s", "v"]}], "mark": {"type": "point", "filled": true, "size": 16, "shape": "cross", "opacity": 1},
     "encoding": {"x": {"field": "t", "type": "quantitative"}, "y": {"field": "v", "type": "quantitative"}, "color": {"field": "s", "type": "nominal"}}},
    {"data": {"name": "s"}, "transform": [{"filter": "datum.p == 4"}, {"fold": ["m"], "as": ["s", "v"]}], "mark": {"type": "point", "filled": true, "size": 20, "shape": "diamond", "opacity": 1},
     "encoding": {"x": {"field": "t", "type": "quantitative"}, "y": {"field": "v", "type": "quantitative"}, "color": {"field": "s", "type": "nominal"}}}
  ]}
 ]},
{"spacing": 11, "resolve": {"scale": {"x": "independent", "y": "independent", "color": "independent"}, "legend": {"color": "independent"}},
 "hconcat": [
  {"width": 279, "height": 145, "layer": [
    {"data": {"name": "sh"}, "transform": [{"filter": "datum.p == 5"}], "mark": {"type": "rect", "color": "#B9B9DF"},
     "encoding": {
      "x": {"field": "a", "type": "quantitative", "scale": {"domain": [-0.125, 23.875], "range": [41, 260], "nice": false, "zero": false},
        "axis": {"values": [0,0.25,0.5,0.75,1,1.25,1.5,1.75,2,2.25,2.5,2.75,3,3.25,3.5,3.75,4,4.25,4.5,4.75,5,5.25,5.5,5.75,6,6.25,6.5,6.75,7,7.25,7.5,7.75,8,8.25,8.5,8.75,9,9.25,9.5,9.75,10,10.25,10.5,10.75,11,11.25,11.5,11.75,12,12.25,12.5,12.75,13,13.25,13.5,13.75,14,14.25,14.5,14.75,15,15.25,15.5,15.75,16,16.25,16.5,16.75,17,17.25,17.5,17.75,18,18.25,18.5,18.75,19,19.25,19.5,19.75,20,20.25,20.5,20.75,21,21.25,21.5,21.75,22,22.25,22.5,22.75,23,23.25,23.5,23.75], "tickCount": 200, "labelExpr": "datum.value % 1 === 0 ? datum.value + ':00' : ''", "labelOverlap": false, "offset": -32, "title": "(時)", "titleX": 268, "titleY": 6}},
      "x2": {"field": "b"},
      "y": {"datum": 0, "type": "quantitative", "scale": {"domain": [0, 100], "range": [113, 23], "nice": false, "zero": false},
        "axis": {"values": [0,20,40,60,80,100], "tickCount": 20, "offset": -41, "title": ["開","い","て","い","る","葉","の","割","合","︵","%","︶"], "titleX": -25, "titleY": 18}},
      "y2": {"datum": 100}}},
    {"data": {"values": [{}]}, "mark": {"type": "rect", "filled": false, "color": "#333", "strokeWidth": 1},
     "encoding": {"x": {"datum": -0.125, "type": "quantitative"}, "x2": {"datum": 23.875}, "y": {"datum": 0, "type": "quantitative"}, "y2": {"datum": 100}}},
    {"data": {"name": "s"}, "transform": [{"filter": "datum.p == 5"}, {"fold": ["k", "m"], "as": ["s", "v"]}], "mark": {"type": "line", "strokeWidth": 1.5},
     "encoding": {"x": {"field": "t", "type": "quantitative"}, "y": {"field": "v", "type": "quantitative"},
      "color": {"field": "s", "type": "nominal", "scale": {"domain": ["k", "m"], "range": ["#F5C016", "#1C2A6E"]},
        "legend": {"title": "⑤明暗 1 時間周期（", "legendX": 13, "legendY": 4, "symbolType": "stroke", "labelExpr": "datum.value === 'k' ? 'カタバミ' : 'ムラサキカタバミ）'"}}}},
    {"data": {"name": "s"}, "transform": [{"filter": "datum.p == 5"}, {"fold": ["k"], "as": ["s", "v"]}], "mark": {"type": "point", "filled": true, "size": 16, "shape": "cross", "opacity": 1},
     "encoding": {"x": {"field": "t", "type": "quantitative"}, "y": {"field": "v", "type": "quantitative"}, "color": {"field": "s", "type": "nominal"}}},
    {"data": {"name": "s"}, "transform": [{"filter": "datum.p == 5"}, {"fold": ["m"], "as": ["s", "v"]}], "mark": {"type": "point", "filled": true, "size": 20, "shape": "diamond", "opacity": 1},
     "encoding": {"x": {"field": "t", "type": "quantitative"}, "y": {"field": "v", "type": "quantitative"}, "color": {"field": "s", "type": "nominal"}}}
  ]},
  {"width": 279, "height": 145, "layer": [
    {"data": {"name": "sh"}, "transform": [{"filter": "datum.p == 6"}], "mark": {"type": "rect", "color": "#B9B9DF"},
     "encoding": {
      "x": {"field": "a", "type": "quantitative", "scale": {"domain": [-0.125, 23.875], "range": [42, 260], "nice": false, "zero": false},
        "axis": {"values": [0,0.25,0.5,0.75,1,1.25,1.5,1.75,2,2.25,2.5,2.75,3,3.25,3.5,3.75,4,4.25,4.5,4.75,5,5.25,5.5,5.75,6,6.25,6.5,6.75,7,7.25,7.5,7.75,8,8.25,8.5,8.75,9,9.25,9.5,9.75,10,10.25,10.5,10.75,11,11.25,11.5,11.75,12,12.25,12.5,12.75,13,13.25,13.5,13.75,14,14.25,14.5,14.75,15,15.25,15.5,15.75,16,16.25,16.5,16.75,17,17.25,17.5,17.75,18,18.25,18.5,18.75,19,19.25,19.5,19.75,20,20.25,20.5,20.75,21,21.25,21.5,21.75,22,22.25,22.5,22.75,23,23.25,23.5,23.75], "tickCount": 200, "labelExpr": "datum.value % 1 === 0 ? datum.value + ':00' : ''", "labelOverlap": false, "offset": -32, "title": "(時)", "titleX": 265, "titleY": 4}},
      "x2": {"field": "b"},
      "y": {"datum": 0, "type": "quantitative", "scale": {"domain": [0, 100], "range": [113, 22], "nice": false, "zero": false},
        "axis": {"values": [0,20,40,60,80,100], "tickCount": 20, "offset": -42, "title": ["開","い","て","い","る","葉","の","割","合","︵","%","︶"], "titleX": -32, "titleY": 18}},
      "y2": {"datum": 100}}},
    {"data": {"values": [{}]}, "mark": {"type": "rect", "filled": false, "color": "#333", "strokeWidth": 1},
     "encoding": {"x": {"datum": -0.125, "type": "quantitative"}, "x2": {"datum": 23.875}, "y": {"datum": 0, "type": "quantitative"}, "y2": {"datum": 100}}},
    {"data": {"name": "s"}, "transform": [{"filter": "datum.p == 6"}, {"fold": ["k", "m"], "as": ["s", "v"]}], "mark": {"type": "line", "strokeWidth": 1.5},
     "encoding": {"x": {"field": "t", "type": "quantitative"}, "y": {"field": "v", "type": "quantitative"},
      "color": {"field": "s", "type": "nominal", "scale": {"domain": ["k", "m"], "range": ["#F5C016", "#1C2A6E"]},
        "legend": {"title": "⑥恒暗（", "legendX": 39, "legendY": 2, "symbolType": "stroke", "labelExpr": "datum.value === 'k' ? 'カタバミ' : 'ムラサキカタバミ）'"}}}},
    {"data": {"name": "s"}, "transform": [{"filter": "datum.p == 6"}, {"fold": ["k"], "as": ["s", "v"]}], "mark": {"type": "point", "filled": true, "size": 16, "shape": "cross", "opacity": 1},
     "encoding": {"x": {"field": "t", "type": "quantitative"}, "y": {"field": "v", "type": "quantitative"}, "color": {"field": "s", "type": "nominal"}}},
    {"data": {"name": "s"}, "transform": [{"filter": "datum.p == 6"}, {"fold": ["m"], "as": ["s", "v"]}], "mark": {"type": "point", "filled": true, "size": 20, "shape": "diamond", "opacity": 1},
     "encoding": {"x": {"field": "t", "type": "quantitative"}, "y": {"field": "v", "type": "quantitative"}, "color": {"field": "s", "type": "nominal"}}}
  ]}
 ]}
]
}
